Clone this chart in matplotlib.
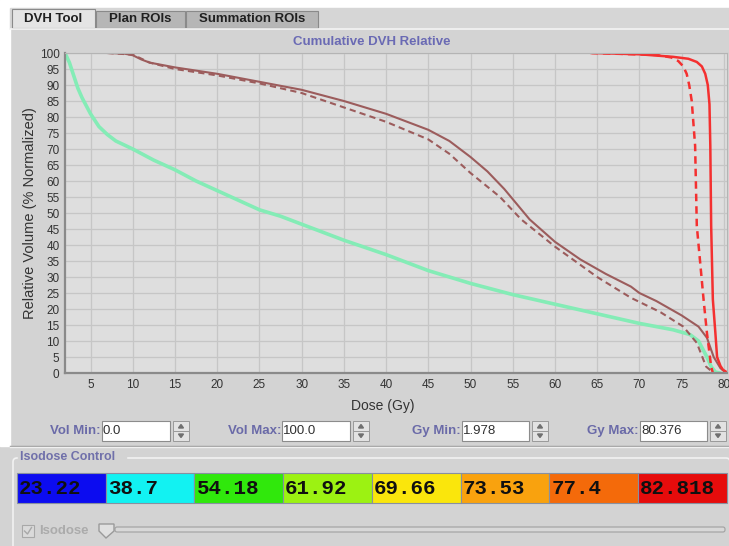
import numpy as np
import matplotlib.pyplot as plt
from matplotlib.patches import Rectangle, Polygon, FancyBboxPatch

plt.rcParams['font.family'] = ['Liberation Sans', 'DejaVu Sans']

# widget texts
tab_names = ['DVH Tool', 'Plan ROIs', 'Summation ROIs']
spin_labels = ['Vol Min:', 'Vol Max:', 'Gy Min:', 'Gy Max:']
spin_values = ['0.0', '100.0', '1.978', '80.376']
iso_levels = ['23.22', '38.7', '54.18', '61.92', '69.66', '73.53', '77.4', '82.818']
iso_colors = ['#0c0cf0', '#12f2f2', '#30e80c', '#9cf212', '#fae60c', '#f9a20e', '#f46a0a', '#e60c0c']

dose_min, dose_max = 1.978, 80.376

# DVH curves: dose (Gy), relative volume (%)
green_dose = [1.98, 2.5, 3.0, 3.5, 4.0, 5.0, 6.0, 7.0, 8.0, 10, 12.5, 15, 17.5, 20, 22.5, 25,
              27.5, 30, 35, 40, 45, 50, 55, 60, 65, 70, 74, 76, 77, 78, 78.5, 79, 79.5]
green_vol = [100, 97, 93, 89, 86, 81, 77, 74.5, 72.5, 70, 66.5, 63.5, 60, 57, 54, 51,
             49, 46.5, 41.5, 37, 32, 28, 24.5, 21.5, 18.5, 15.5, 13.5, 12, 10, 5, 2, 0.3, 0]

brown_dose = [7.0, 9.0, 10.0, 11.0, 12.0, 15, 20, 25, 30, 35, 40, 43, 45, 47.5, 50, 52, 54, 57,
              60, 63, 66, 69, 70, 72, 75, 77, 78, 78.8, 79.6, 80.3]
brown_vol = [100, 99.8, 99.3, 98, 97, 95.5, 93.5, 91, 88.5, 85, 81, 78, 76, 72.5, 67.5, 63, 57.5, 48,
             41, 35.5, 31, 27, 25, 22.5, 18, 14.5, 11, 5, 1.5, 0]

brown2_dose = [7.0, 10, 12, 15, 20, 25, 30, 35, 40, 45, 47.5, 50, 53.5, 56, 60, 65, 69, 72.5,
               75.2, 76.8, 77.9, 78.8]
brown2_vol = [100, 99.5, 97, 95, 93, 90.5, 87.5, 83, 78.5, 73, 68.5, 62.5, 55, 48, 39.5, 30, 23.5, 19,
              14.5, 9.4, 2, 0]

red_dose = [64.5, 70, 74, 75.8, 76.8, 77.4, 77.8, 78.1, 78.3, 78.4, 78.5, 78.7, 79.0, 79.2, 79.6, 79.9, 80.5]
red_vol = [100, 99.6, 98.8, 98.2, 97.2, 95.8, 93.5, 90, 84, 71, 46, 23, 12.5, 5, 2.2, 1, 0]

red2_dose = [64.2, 72, 73.8, 74.6, 75.2, 75.6, 75.9, 76.2, 76.6, 76.8, 77.6, 78.0, 78.5, 78.7]
red2_vol = [100, 99.4, 98.6, 97.5, 95.8, 93.5, 90, 85, 71, 46, 23, 12.5, 2, 0]

W, H = 729, 546
fig = plt.figure(figsize=(W / 100, H / 100), dpi=100)
fig.patch.set_facecolor('#d3d3d3')

# background axes in pixel coordinates for the GUI chrome
bg = fig.add_axes([0, 0, 1, 1], zorder=0)
bg.set_xlim(0, W)
bg.set_ylim(H, 0)
bg.axis('off')

bg.add_patch(Rectangle((0, 0), W, 8, color='white'))
bg.add_patch(Rectangle((0, 0), 10, 446, color='white'))
bg.add_patch(Rectangle((10, 8), W - 10, 20, color='#d6d6d6'))
bg.plot([10, W], [28.5, 28.5], color='#f4f4f4', lw=1.2)

# tabs
tab_x = [12, 96, 186]
tab_w = [83, 89, 132]
for i, name in enumerate(tab_names):
    fc = '#e4e4e4' if i == 0 else '#b6b6b6'
    top = 9 if i == 0 else 11
    bg.add_patch(Rectangle((tab_x[i], top), tab_w[i], 28 - top, fc=fc, ec='#8a8a8a', lw=0.8))
    bg.text(tab_x[i] + tab_w[i] / 2, 19.5, name, ha='center', va='center',
            fontsize=9.5, fontweight='bold', color='#202020')

bg.text(372, 42, 'Cumulative DVH Relative', ha='center', va='center',
        fontsize=9.5, fontweight='bold', color='#6a6ab4')

# spinner row
lab_end = [101, 281, 461, 639]
box_w = [68, 68, 67, 67]
for lab, val, xe, bw in zip(spin_labels, spin_values, lab_end, box_w):
    bg.text(xe, 431, lab, ha='right', va='center', fontsize=9.5, fontweight='bold', color='#6a6aa8')
    bg.add_patch(Rectangle((xe + 1, 421), bw, 20, fc='white', ec='#8c8c8c', lw=0.8))
    bg.text(xe + 2, 431, val, ha='left', va='center', fontsize=9.5, color='#303030')
    sx = xe + bw + 4
    bg.add_patch(Rectangle((sx, 421), 16, 10, fc='#e2e2e2', ec='#9a9a9a', lw=0.7))
    bg.add_patch(Rectangle((sx, 431), 16, 10, fc='#e2e2e2', ec='#9a9a9a', lw=0.7))
    bg.add_patch(Polygon([[sx + 5.5, 428], [sx + 10.5, 428], [sx + 8, 424.5]], color='#707070'))
    bg.add_patch(Polygon([[sx + 5.5, 434], [sx + 10.5, 434], [sx + 8, 437.5]], color='#707070'))

bg.plot([10, W], [445.5, 445.5], color='#9a9a9a', lw=1)
bg.plot([10, W], [447, 447], color='#f0f0f0', lw=1)

# isodose control group
bg.add_patch(FancyBboxPatch((13, 458), W - 12, 100, boxstyle='round,pad=0,rounding_size=4',
                            fc='none', ec='#f2f2f2', lw=1.2))
bg.add_patch(Rectangle((18, 450), 108, 14, color='#d3d3d3'))
bg.text(20, 457, 'Isodose Control', ha='left', va='center', fontsize=9,
        fontweight='bold', color='#7070aa')

cell_x0, cell_w = 17, (727 - 17) / 8
for i, (lv, c) in enumerate(zip(iso_levels, iso_colors)):
    x0 = cell_x0 + i * cell_w
    bg.add_patch(Rectangle((x0, 473), cell_w, 30, fc=c, ec='#8890a0', lw=0.8))
    bg.text(x0 + 2, 489, lv, ha='left', va='center', fontsize=15, fontweight='bold',
            family='Liberation Mono', color='#101010')

# disabled checkbox + slider
bg.add_patch(Rectangle((22, 525), 12, 12, fc='#dadada', ec='#a8a8a8', lw=0.8))
bg.plot([24.5, 27.5, 31.5], [531, 534, 527.5], color='#a8a8a8', lw=1)
bg.text(39, 531.5, 'Isodose', ha='left', va='center', fontsize=9.5, fontweight='bold', color='#ababab')
bg.add_patch(FancyBboxPatch((115, 527), 610, 5, boxstyle='round,pad=0,rounding_size=2',
                            fc='#d8d8d8', ec='#a0a0a0', lw=0.8))
bg.add_patch(Polygon([[99, 524], [114, 524], [114, 531], [106, 538], [99, 531]],
                     fc='#e0e0e0', ec='#9a9a9a', lw=1))

# DVH plot
ax = fig.add_axes([65 / W, 1 - 373 / H, 662 / W, 320 / H], zorder=2)
ax.set_facecolor('#dedede')
ax.plot(green_dose, green_vol, color='#84ecb6', lw=2.6, solid_joinstyle='round')
ax.plot(brown2_dose, brown2_vol, color='#9c5c5c', lw=1.5, ls=(0, (3, 2)))
ax.plot(brown_dose, brown_vol, color='#9c5c5c', lw=1.5)
ax.plot(red2_dose, red2_vol, color='#f43030', lw=1.8, ls=(0, (3, 2)))
ax.plot(red_dose, red_vol, color='#f43030', lw=1.8)

ax.set_xlim(dose_min, dose_max)
ax.set_ylim(0, 100)
ax.set_xticks(np.arange(5, 81, 5))
ax.set_yticks(np.arange(0, 101, 5))
ax.tick_params(length=0, labelsize=8.5, labelcolor='#333333', pad=4)
ax.grid(True, color='#c6c6c6', lw=0.9)
ax.set_axisbelow(True)
for s in ['left', 'bottom']:
    ax.spines[s].set_color('#8a8a8a')
    ax.spines[s].set_linewidth(1.6)
for s in ['top', 'right']:
    ax.spines[s].set_color('#b4b4b4')
    ax.spines[s].set_linewidth(0.8)

fig.text(383 / W, 1 - 406 / H, 'Dose (Gy)', ha='center', va='center', fontsize=10, color='#333333')
fig.text(30 / W, 1 - 213 / H, 'Relative Volume (% Normalized)', ha='center', va='center',
         rotation=90, fontsize=10.5, color='#333333')

fig.savefig('out.png', dpi=100)
